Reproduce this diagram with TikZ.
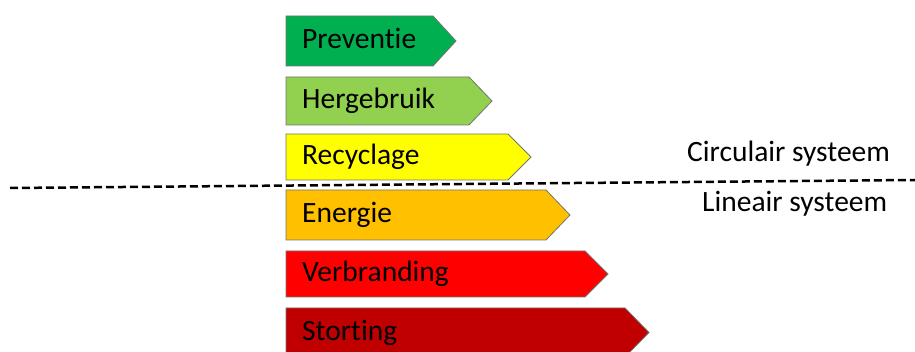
\documentclass[tikz,border=0pt]{standalone}
\usepackage{fontspec}
\setmainfont{Carlito}[Ligatures={NoCommon}]
\definecolor{cPrev}{HTML}{00B050}
\definecolor{cHerg}{HTML}{92D050}
\definecolor{cRecy}{HTML}{FFFF00}
\definecolor{cEner}{HTML}{FFC000}
\definecolor{cVerb}{HTML}{FF0000}
\definecolor{cStor}{HTML}{C00000}
\tikzset{
  arrowbox/.style={draw=black!55, line width=0.8pt, line join=miter},
  boxlabel/.style={anchor=base west, inner sep=0pt, font=\fontsize{29.5}{33}\selectfont, text=black},
  sidelabel/.style={anchor=base west, inner sep=0pt, font=\fontsize{29.5}{33}\selectfont, text=black},
  divider/.style={dashed, dash pattern=on 8pt off 4pt, line width=2.5pt, black}
}
\begin{document}
\begin{tikzpicture}[x=1pt,y=-1pt]
\useasboundingbox (0,0) rectangle (915,352);
\foreach \t/\b/\f/\p/\c/\n/\lab in {
  16/66/433/456/cPrev/prev/Preventie,
  77/125/469/492/cHerg/herg/Hergebruik,
  134/180/508/531/cRecy/recy/Recyclage,
  190/240/546/570/cEner/ener/Energie,
  251/297/585/608/cVerb/verb/Verbranding,
  308/357/625/649/cStor/stor/Storting}{
  \pgfmathsetmacro{\m}{(\t+\b)/2}
  \filldraw[arrowbox, fill=\c] (286,\t) -- (\f,\t) -- (\p,\m) -- (\f,\b) -- (286,\b) -- cycle;
  \node[boxlabel] (\n) at (302,\m+8) {\lab};
}
\coordinate (dl) at (10,188);
\coordinate (dr) at (915,180);
\draw[divider] (dl) -- (dr);
\node[sidelabel] (circ) at (687,162) {Circulair systeem};
\node[sidelabel] (lin) at (702,212) {Lineair systeem};
\end{tikzpicture}
\end{document}
